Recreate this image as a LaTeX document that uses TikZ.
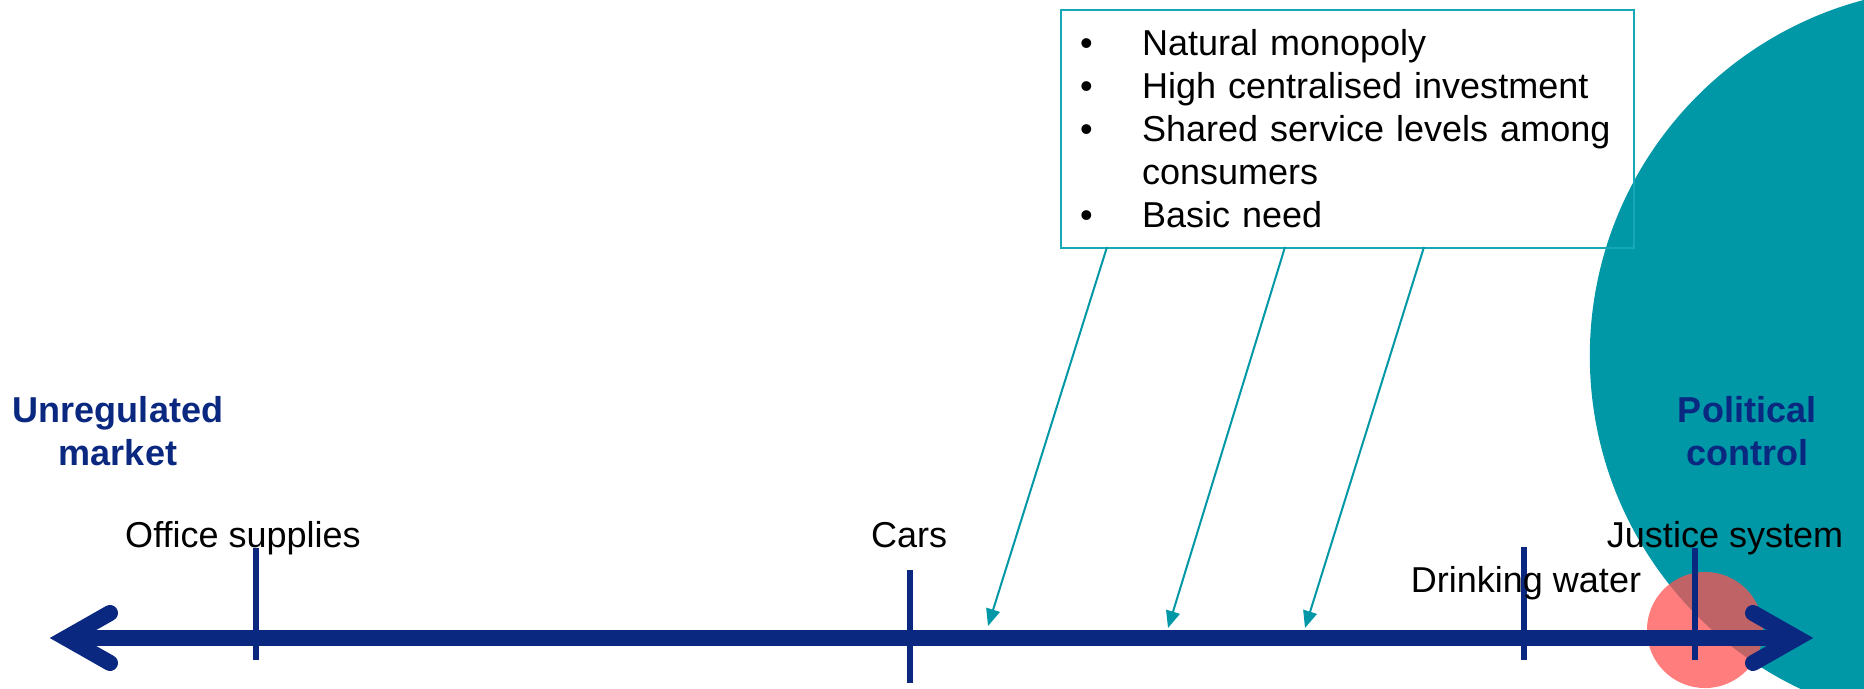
\documentclass[tikz,border=0pt]{standalone}
\usepackage{fontspec}
\setmainfont{Liberation Sans}
\usetikzlibrary{arrows.meta}
\definecolor{navy}{RGB}{10,40,128}
\definecolor{tealbg}{RGB}{0,151,167}
\definecolor{tealline}{RGB}{22,168,183}
\definecolor{salmon}{RGB}{255,82,82}
\tikzset{
    axisline/.style={draw=navy, line width=0.16cm},
    barb/.style={draw=navy, line width=0.16cm, line cap=round, line join=miter},
    tickmark/.style={draw=navy, line width=0.06cm},
    itemlabel/.style={font=\fontsize{10.24}{12.2}\selectfont, anchor=base, inner sep=0},
    endlabel/.style={font=\fontsize{10.24}{11.96}\selectfont\bfseries, text=navy, align=center, anchor=base, inner sep=0},
    listbox/.style={draw=tealline, line width=0.02cm, anchor=north west, text width=5.35cm,
        inner xsep=0.19cm, inner ysep=0.08cm, font=\fontsize{10.24}{12.23}\selectfont},
    pointer/.style={draw=tealbg, line width=0.02cm, -{Triangle[length=0.17cm,width=0.14cm]}},
}

\begin{document}
\begin{tikzpicture}[x=0.01cm, y=-0.01cm]
    \useasboundingbox (0,0) rectangle (1864,688);
    % background discs
    \begin{scope}
        \clip (0,0) rectangle (1864,688);
        \fill[tealbg] (1958,356) circle[radius=3.68cm];
    \end{scope}
    \fill[salmon, opacity=0.75] (1705,630) circle[radius=0.58cm];

    % list of features
    \node[listbox] (traits) at (1060,9) {\noindent
        \begin{tabular}{@{}l@{\hspace{0.494cm}}l@{}}
            \rule{0pt}{0.37cm}\textbullet & Natural monopoly\\
            \textbullet & High centralised investment\\
            \textbullet & Shared service levels among\\
                        & consumers\\
            \textbullet & Basic need
        \end{tabular}};

    % the scale
    \draw[axisline] (66,638) -- (1797,638);
    \draw[barb] (110,613) -- (66,638) -- (110,663);
    \draw[barb] (1753,613) -- (1797,638) -- (1753,663);

    \draw[tickmark] (256,548) -- (256,660);
    \draw[tickmark] (910,570) -- (910,683);
    \draw[tickmark] (1524,547) -- (1524,660);
    \draw[tickmark] (1695,548) -- (1695,660);

    \node[itemlabel] (office) at (243,547) {Office supplies};
    \node[itemlabel] (cars) at (909,547) {Cars};
    \node[itemlabel] (water) at (1526,592) {Drinking water};
    \node[itemlabel] (justice) at (1725,547) {Justice system};

    \node[endlabel] (market) at (118,465) {Unregulated\\market};
    \node[endlabel] (political) at (1747,465) {Political\\control};

    % pointers from the box
    \coordinate (s1) at (1107,247);
    \coordinate (s2) at (1285,247);
    \coordinate (s3) at (1424,247);
    \coordinate (p1) at (988,626);
    \coordinate (p2) at (1168,628);
    \coordinate (p3) at (1305,628);
    \draw[pointer] (s1) -- (p1);
    \draw[pointer] (s2) -- (p2);
    \draw[pointer] (s3) -- (p3);
\end{tikzpicture}
\end{document}
